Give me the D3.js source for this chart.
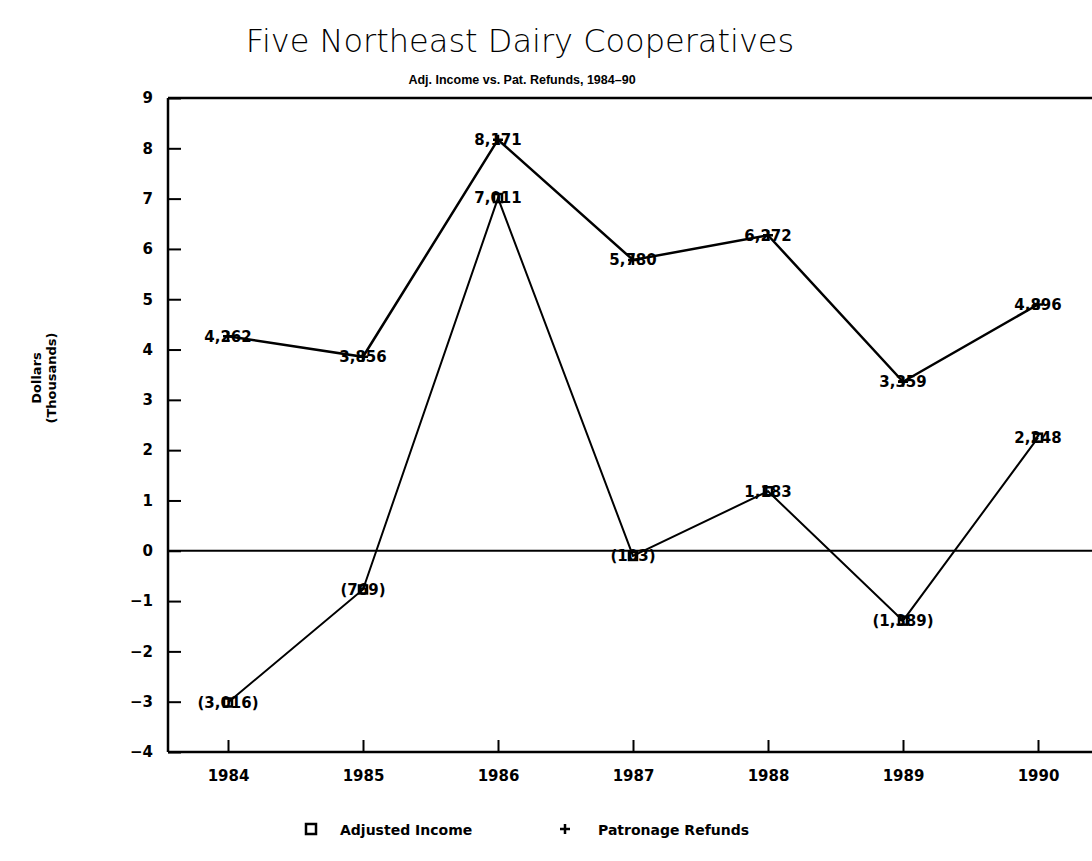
<!DOCTYPE html>
<html>
<head>
<meta charset="utf-8">
<script src="https://cdn.jsdelivr.net/npm/d3@7"></script>
<style>
  body { margin: 0; background: #fff; }
  svg { display: block; }
</style>
</head>
<body>
<div class="canvas"></div>
<script>
// chart data, in thousands of dollars
const years = [1984, 1985, 1986, 1987, 1988, 1989, 1990];
const adjustedIncome = [-3.016, -0.769, 7.011, -0.103, 1.183, -1.389, 2.248];
const patronageRefunds = [4.262, 3.856, 8.171, 5.780, 6.272, 3.359, 4.896];
const yTicks = [9, 8, 7, 6, 5, 4, 3, 2, 1, 0, -1, -2, -3, -4];

const width = 1092, height = 861;
const plotLeft = 168, plotTop = 98, plotBottom = 752, plotRight = 1100;

const svg = d3.select('.canvas').append('svg')
    .attr('width', width)
    .attr('height', height);

const x = d3.scaleLinear().domain([1984, 1990]).range([228, 1038]);
const y = d3.scaleLinear().domain([-4, 9]).range([plotBottom, plotTop]);

// titles
svg.append('text')
    .attr('x', 520).attr('y', 52)
    .attr('text-anchor', 'middle')
    .style('font-family', 'DejaVu Sans')
    .style('font-size', '32px')
    .style('font-weight', 200)
    .text('Five Northeast Dairy Cooperatives');

svg.append('text')
    .attr('x', 522).attr('y', 84)
    .attr('text-anchor', 'middle')
    .style('font-family', 'Liberation Sans')
    .style('font-size', '12.5px')
    .style('font-weight', 'bold')
    .text('Adj. Income vs. Pat. Refunds, 1984–90');

// y axis title
const yTitle = svg.append('text')
    .attr('transform', 'translate(44, 378) rotate(-90)')
    .attr('text-anchor', 'middle')
    .style('font-family', 'DejaVu Sans')
    .style('font-size', '13px')
    .style('font-weight', 'bold');
yTitle.append('tspan').attr('x', 0).attr('dy', '-0.2em').text('Dollars');
yTitle.append('tspan').attr('x', 0).attr('dy', '1.1em').text('(Thousands)');

// axes
const yAxis = svg.append('g')
    .attr('transform', `translate(${plotLeft},0)`)
    .call(d3.axisLeft(y).tickValues(yTicks).tickSizeInner(-13).tickSizeOuter(0)
        .tickPadding(15).tickFormat(d3.format('d')));

const xAxis = svg.append('g')
    .attr('transform', `translate(0,${plotBottom})`)
    .call(d3.axisBottom(x).tickValues(years).tickSizeInner(-12).tickSizeOuter(0)
        .tickPadding(18).tickFormat(d3.format('d')));

[yAxis, xAxis].forEach(g => {
  g.select('.domain').remove();
  g.selectAll('line').attr('stroke', '#000').attr('stroke-width', 2);
  g.selectAll('text')
      .attr('fill', '#000')
      .style('font-family', 'DejaVu Sans')
      .style('font-size', '15px')
      .style('font-weight', 'bold');
});

// frame: left, bottom, top and zero line
svg.append('line').attr('x1', plotLeft).attr('x2', plotLeft).attr('y1', plotTop).attr('y2', plotBottom)
    .attr('stroke', '#000').attr('stroke-width', 2.5);
svg.append('line').attr('x1', plotLeft).attr('x2', plotRight).attr('y1', plotBottom).attr('y2', plotBottom)
    .attr('stroke', '#000').attr('stroke-width', 2.5);
svg.append('line').attr('x1', plotLeft).attr('x2', plotRight).attr('y1', plotTop).attr('y2', plotTop)
    .attr('stroke', '#000').attr('stroke-width', 2.5);
svg.append('line').attr('x1', plotLeft).attr('x2', plotRight).attr('y1', y(0)).attr('y2', y(0))
    .attr('stroke', '#000').attr('stroke-width', 2);

// lines
const line = d3.line().x((d, i) => x(years[i])).y(d => y(d));

svg.append('path')
    .datum(adjustedIncome)
    .attr('d', line)
    .attr('fill', 'none')
    .attr('stroke', '#000')
    .attr('stroke-width', 2);

svg.append('path')
    .datum(patronageRefunds)
    .attr('d', line)
    .attr('fill', 'none')
    .attr('stroke', '#000')
    .attr('stroke-width', 2.5);

// markers
svg.append('g').selectAll('rect')
    .data(adjustedIncome)
    .join('rect')
    .attr('x', (d, i) => x(years[i]) - 4)
    .attr('y', d => y(d) - 4)
    .attr('width', 8).attr('height', 8)
    .attr('fill', 'none').attr('stroke', '#000').attr('stroke-width', 2.5);

svg.append('g').selectAll('path')
    .data(patronageRefunds)
    .join('path')
    .attr('d', (d, i) => {
      const cx = x(years[i]), cy = y(d);
      return `M${cx - 5},${cy}H${cx + 5}M${cx},${cy - 5}V${cy + 5}`;
    })
    .attr('stroke', '#000').attr('stroke-width', 2.5);

// value labels
const fmt = v => {
  const s = d3.format(',')(Math.round(Math.abs(v) * 1000));
  return v < 0 ? `(${s})` : s;
};

[adjustedIncome, patronageRefunds].forEach(series => {
  svg.append('g').selectAll('text')
      .data(series)
      .join('text')
      .attr('x', (d, i) => x(years[i]))
      .attr('y', d => y(d))
      .attr('dy', '0.36em')
      .attr('text-anchor', 'middle')
      .style('font-family', 'DejaVu Sans')
      .style('font-size', '15px')
      .style('font-weight', 'bold')
      .text(fmt);
});

// legend
const legend = svg.append('g').attr('transform', 'translate(0, 830)');
legend.append('rect')
    .attr('x', 306).attr('y', -6).attr('width', 10).attr('height', 10)
    .attr('fill', 'none').attr('stroke', '#000').attr('stroke-width', 2.5);
legend.append('text')
    .attr('x', 340).attr('y', 5)
    .style('font-family', 'DejaVu Sans')
    .style('font-size', '14px')
    .style('font-weight', 'bold')
    .text('Adjusted Income');
legend.append('path')
    .attr('d', 'M560,-1H570M565,-6V4')
    .attr('stroke', '#000').attr('stroke-width', 2.5);
legend.append('text')
    .attr('x', 598).attr('y', 5)
    .style('font-family', 'DejaVu Sans')
    .style('font-size', '14px')
    .style('font-weight', 'bold')
    .text('Patronage Refunds');
</script>
</body>
</html>
